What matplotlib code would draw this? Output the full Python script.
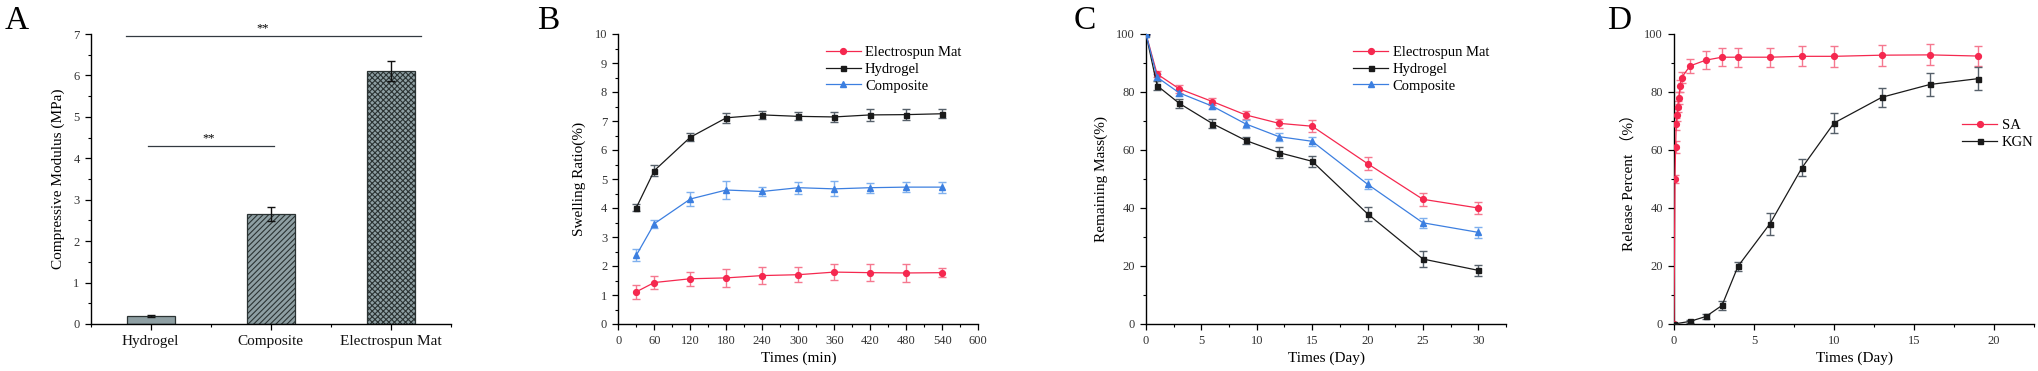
import numpy as np
import matplotlib
matplotlib.use("Agg")
import matplotlib.pyplot as plt
from matplotlib.ticker import MultipleLocator

plt.rcParams['font.family'] = ['Liberation Serif', 'DejaVu Serif']
plt.rcParams['hatch.linewidth'] = 0.8
plt.rcParams['hatch.color'] = '#2b3333'

# ---- panel A: compressive modulus
groups = ["Hydrogel", "Composite", "Electrospun Mat"]
modulus = [0.19, 2.65, 6.11]
modulus_err = [0.02, 0.17, 0.24]

# ---- panel B: swelling ratio
swell_t = [30, 60, 120, 180, 240, 300, 360, 420, 480, 540]
swell_mat = [1.11, 1.43, 1.56, 1.59, 1.67, 1.70, 1.79, 1.77, 1.76, 1.77]
swell_mat_err = [0.25, 0.23, 0.25, 0.31, 0.29, 0.25, 0.28, 0.29, 0.30, 0.15]
swell_gel = [4.01, 5.29, 6.44, 7.11, 7.21, 7.16, 7.14, 7.21, 7.22, 7.25]
swell_gel_err = [0.13, 0.20, 0.14, 0.18, 0.14, 0.14, 0.17, 0.20, 0.20, 0.15]
swell_comp = [2.37, 3.46, 4.31, 4.62, 4.57, 4.70, 4.66, 4.70, 4.72, 4.72]
swell_comp_err = [0.20, 0.14, 0.25, 0.30, 0.15, 0.20, 0.26, 0.17, 0.18, 0.19]

# ---- panel C: degradation
deg_t = [0, 1, 3, 6, 9, 12, 15, 20, 25, 30]
deg_mat = [100, 86.2, 81.1, 76.7, 72.1, 69.2, 68.2, 55.3, 43.0, 40.0]
deg_mat_err = [0, 1.0, 1.3, 1.3, 1.5, 1.5, 2.0, 2.2, 2.2, 2.0]
deg_gel = [100, 82.2, 76.1, 69.1, 63.3, 59.1, 56.1, 38.0, 22.4, 18.5]
deg_gel_err = [0, 1.5, 1.5, 1.5, 1.2, 2.0, 2.0, 2.5, 2.7, 2.0]
deg_comp = [100, 85.1, 79.7, 75.1, 69.0, 64.6, 63.0, 48.2, 34.9, 31.6]
deg_comp_err = [0, 1.0, 1.0, 1.0, 1.3, 1.4, 1.6, 1.7, 1.8, 1.8]

# ---- panel D: release
sa_t = [0, 0.06, 0.1, 0.14, 0.19, 0.23, 0.3, 0.38, 0.48, 1, 2, 3, 4, 6, 8, 10, 13, 16, 19]
sa = [0, 50, 61, 69, 72, 75, 78, 82, 85, 89, 91, 92, 92, 92, 92.3, 92.3, 92.7, 92.8, 92.4]
sa_err = [0, 1.5, 2, 2, 2, 2, 2, 2, 2, 2.5, 3, 3.2, 3.3, 3.3, 3.5, 3.7, 3.6, 3.6, 3.6]
kgn_t = [0, 1, 2, 3, 4, 6, 8, 10, 13, 16, 19]
kgn = [0, 0.9, 2.6, 6.4, 19.9, 34.6, 53.9, 69.3, 78.2, 82.6, 84.6]
kgn_err = [0, 0.5, 1.0, 1.5, 1.5, 3.8, 3.0, 3.3, 3.3, 4.0, 4.0]

RED = '#f5284f'
RED_E = '#f5788f'
BLK = '#1a1a1a'
BLK_E = '#56606a'
BLU = '#3c7fe0'
BLU_E = '#7fb0ee'
TICKC = '#333333'

fig = plt.figure(figsize=(20.38, 3.71), dpi=100)
W, H = 2038, 371
lefts = [90.7, 618.3, 1146, 1674]
axes = [fig.add_axes([l / W, (H - 324) / H, 360 / W, 290 / H]) for l in lefts]


def style(ax):
    for s in ['top', 'right']:
        ax.spines[s].set_visible(False)
    for s in ['left', 'bottom']:
        ax.spines[s].set_linewidth(1.0)
    ax.tick_params(which='major', direction='out', length=4.5, width=0.9,
                   labelsize=9, labelcolor=TICKC)
    ax.tick_params(which='minor', direction='out', length=2.5, width=0.8)


def series(ax, x, y, e, c, ec, m, ms, label):
    ax.errorbar(x, y, yerr=e, fmt='none', ecolor=ec, elinewidth=1.0,
                capsize=3, capthick=1.0, zorder=2)
    ax.plot(x, y, color=c, marker=m, markersize=ms, linewidth=0.9,
            label=label, zorder=3)


# A
ax = axes[0]
style(ax)
xpos = np.arange(1, 4)
hatches = ['', '//////', 'xxxxxx']
for i in range(3):
    ax.bar(xpos[i], modulus[i], width=0.4, color='#8e9fa3', edgecolor='#2b3333',
           linewidth=0.9, hatch=hatches[i], zorder=2)
ax.errorbar(xpos, modulus, yerr=modulus_err, fmt='none', ecolor='#111111',
            elinewidth=1.0, capsize=3, capthick=1.0, zorder=3)
ax.set_xlim(0.5, 3.5)
ax.set_ylim(0, 7)
ax.set_xticks(xpos)
ax.set_xticklabels(groups, fontsize=11, color='#111111')
ax.xaxis.set_minor_locator(MultipleLocator(0.5))
ax.yaxis.set_major_locator(MultipleLocator(1))
ax.yaxis.set_minor_locator(MultipleLocator(0.5))
ax.set_ylabel("Compressive Modulus (MPa)", fontsize=11, labelpad=6)
ax.plot([0.79, 3.25], [6.96, 6.96], color='#333a40', linewidth=0.9, clip_on=False)
ax.text(1.93, 7.0, "**", ha='center', va='bottom', fontsize=9)
ax.plot([0.98, 2.03], [4.3, 4.3], color='#333a40', linewidth=0.9)
ax.text(1.48, 4.34, "**", ha='center', va='bottom', fontsize=9)

# B
ax = axes[1]
style(ax)
series(ax, swell_t, swell_mat, swell_mat_err, RED, RED_E, 'o', 4.2, "Electrospun Mat")
series(ax, swell_t, swell_gel, swell_gel_err, BLK, BLK_E, 's', 3.6, "Hydrogel")
series(ax, swell_t, swell_comp, swell_comp_err, BLU, BLU_E, '^', 4.4, "Composite")
ax.set_xlim(0, 600)
ax.set_ylim(0, 10)
ax.xaxis.set_major_locator(MultipleLocator(60))
ax.xaxis.set_minor_locator(MultipleLocator(30))
ax.yaxis.set_major_locator(MultipleLocator(1))
ax.yaxis.set_minor_locator(MultipleLocator(0.5))
ax.set_xlabel("Times (min)", fontsize=11, labelpad=3)
ax.set_ylabel("Swelling Ratio(%)", fontsize=11, labelpad=6)

# C
ax = axes[2]
style(ax)
series(ax, deg_t, deg_mat, deg_mat_err, RED, RED_E, 'o', 4.2, "Electrospun Mat")
series(ax, deg_t, deg_gel, deg_gel_err, BLK, BLK_E, 's', 3.6, "Hydrogel")
series(ax, deg_t, deg_comp, deg_comp_err, BLU, BLU_E, '^', 4.4, "Composite")
ax.set_xlim(0, 32.5)
ax.set_ylim(0, 100)
ax.xaxis.set_major_locator(MultipleLocator(5))
ax.xaxis.set_minor_locator(MultipleLocator(2.5))
ax.yaxis.set_major_locator(MultipleLocator(20))
ax.yaxis.set_minor_locator(MultipleLocator(10))
ax.set_xlabel("Times (Day)", fontsize=11, labelpad=3)
ax.set_ylabel("Remaining Mass(%)", fontsize=11, labelpad=6)

# D
ax = axes[3]
style(ax)
series(ax, sa_t, sa, sa_err, RED, RED_E, 'o', 4.2, "SA")
series(ax, kgn_t, kgn, kgn_err, BLK, BLK_E, 's', 3.6, "KGN")
ax.set_xlim(0, 22.5)
ax.set_ylim(0, 100)
ax.xaxis.set_major_locator(MultipleLocator(5))
ax.xaxis.set_minor_locator(MultipleLocator(2.5))
ax.yaxis.set_major_locator(MultipleLocator(20))
ax.yaxis.set_minor_locator(MultipleLocator(10))
ax.set_xlabel("Times (Day)", fontsize=11, labelpad=3)
ax.set_ylabel("Release Percent （%）", fontsize=11, labelpad=6,
              family=['Liberation Serif', 'Noto Sans CJK SC'])

leg_kw = dict(frameon=False, fontsize=10.5, handlelength=2.4, handletextpad=0.3,
              labelspacing=0.25, borderaxespad=0.0)
axes[1].legend(loc='upper left', bbox_to_anchor=(0.56, 0.98), **leg_kw)
axes[2].legend(loc='upper left', bbox_to_anchor=(0.56, 0.98), **leg_kw)
axes[3].legend(loc='center left', bbox_to_anchor=(0.785, 0.655), **leg_kw)

for ax, letter, xl in zip(axes, "ABCD", [5, 537, 1074, 1607]):
    fig.text(xl / W, 1 - 29 / H, letter, fontsize=24, ha='left', va='baseline')

fig.savefig("out.png", dpi=100)
